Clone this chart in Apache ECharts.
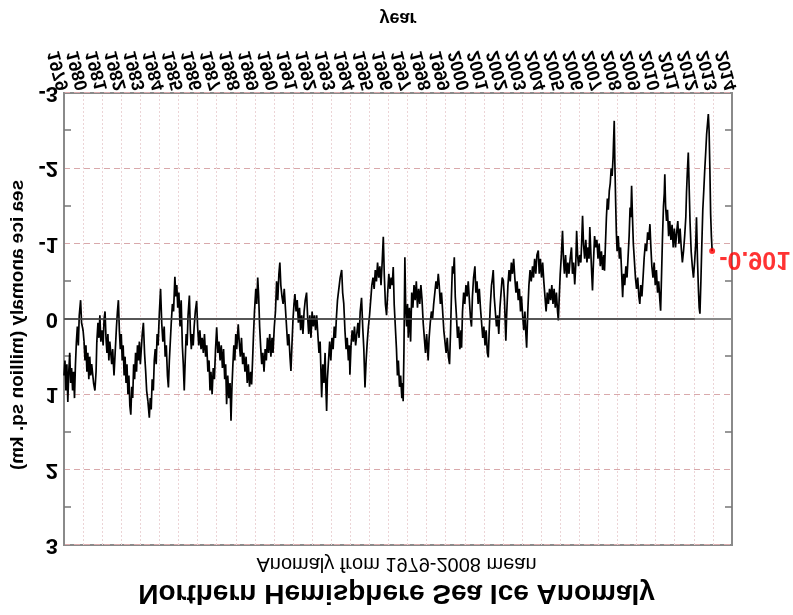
<!DOCTYPE html>
<html>
<head>
<meta charset="utf-8">
<script src="https://cdn.jsdelivr.net/npm/echarts@6/dist/echarts.min.js"></script>
<style>
html,body{margin:0;padding:0;background:#fff;}
#chart{width:793px;height:615px;transform:scaleY(-1);}
</style>
</head>
<body>
<div id="chart"></div>
<script>
// Northern Hemisphere sea ice anomaly (million sq. km), [decimal year, anomaly]
const data1979s = [
[1979.00,0.75],[1979.05,0.55],[1979.10,0.95],[1979.15,0.60],[1979.20,1.10],[1979.25,0.70],[1979.30,0.45],[1979.35,0.85],[1979.40,0.65],[1979.45,0.95],[1979.50,0.70],[1979.55,1.05],[1979.60,0.60],[1979.65,0.30],[1979.70,0.10],[1979.75,0.35],[1979.80,-0.05],[1979.87,-0.25],[1979.92,0.05],
[1980.00,0.15],[1980.05,0.30],[1980.10,0.55],[1980.15,0.35],[1980.20,0.70],[1980.25,0.45],[1980.30,0.80],[1980.35,0.50],[1980.40,0.75],[1980.45,0.60],[1980.55,0.85],[1980.62,0.95],[1980.68,0.70],[1980.72,0.30],[1980.78,0.05],[1980.83,0.25],[1980.88,-0.05],[1980.93,0.30],
[1981.00,0.15],[1981.05,0.35],[1981.10,0.00],[1981.15,-0.10],[1981.20,0.25],[1981.25,0.45],[1981.30,0.20],[1981.35,0.55],[1981.40,0.30],[1981.50,0.60],[1981.55,0.40],[1981.62,0.75],[1981.70,0.35],[1981.75,0.10],[1981.80,-0.10],[1981.85,-0.25],[1981.90,0.15],[1981.95,0.40],
[1982.00,0.20],[1982.05,0.55],[1982.10,0.35],[1982.15,0.75],[1982.20,0.50],[1982.25,0.85],[1982.30,0.60],[1982.35,1.00],[1982.40,0.75],[1982.45,1.15],[1982.50,1.27],[1982.55,0.90],[1982.60,1.05],[1982.65,0.60],[1982.70,0.80],[1982.75,0.45],[1982.80,0.70],[1982.85,0.35],[1982.90,0.55],[1982.95,0.30],
[1983.00,0.60],[1983.05,0.40],[1983.10,0.20],[1983.16,0.05],[1983.22,0.45],[1983.28,0.70],[1983.33,0.95],[1983.40,1.10],[1983.47,1.31],[1983.52,1.05],[1983.57,1.20],[1983.62,0.80],[1983.68,0.95],[1983.73,0.55],[1983.78,0.40],[1983.83,0.60],[1983.88,0.20],[1983.93,0.35],
[1984.00,-0.10],[1984.06,-0.40],[1984.12,0.05],[1984.18,0.30],[1984.25,0.10],[1984.30,0.50],[1984.36,0.35],[1984.42,0.75],[1984.47,0.91],[1984.52,0.55],[1984.57,0.30],[1984.62,0.05],[1984.68,-0.20],[1984.74,-0.10],[1984.81,-0.56],[1984.86,-0.30],[1984.91,-0.45],[1984.96,-0.15],
[1985.02,-0.35],[1985.08,0.10],[1985.14,-0.25],[1985.20,0.35],[1985.25,0.60],[1985.30,0.95],[1985.35,0.55],[1985.40,0.20],[1985.45,0.35],[1985.50,-0.05],[1985.57,-0.31],[1985.62,0.15],[1985.67,0.40],[1985.72,0.20],[1985.77,0.35],[1985.82,0.10],[1985.88,-0.10],[1985.95,-0.24],
[1986.00,0.10],[1986.06,0.35],[1986.12,0.15],[1986.18,0.40],[1986.24,0.25],[1986.30,0.45],[1986.36,0.20],[1986.42,0.50],[1986.48,0.35],[1986.54,0.70],[1986.60,0.55],[1986.65,0.95],[1986.70,0.70],[1986.76,1.00],[1986.82,0.65],[1986.88,0.80],[1986.94,0.40],
[1987.00,0.11],[1987.06,0.45],[1987.12,0.30],[1987.18,0.55],[1987.24,0.35],[1987.30,0.65],[1987.36,0.40],[1987.42,0.80],[1987.47,0.60],[1987.52,1.13],[1987.58,0.75],[1987.64,1.05],[1987.70,0.85],[1987.75,1.35],[1987.80,0.90],[1987.85,0.60],[1987.90,0.35],[1987.95,0.55],
[1988.00,0.20],[1988.05,0.40],[1988.13,0.07],[1988.18,0.30],[1988.24,0.50],[1988.30,0.25],[1988.36,0.60],[1988.42,0.45],[1988.48,0.70],[1988.54,0.50],[1988.60,0.85],[1988.66,0.60],[1988.72,0.90],[1988.78,0.70],[1988.83,0.87],[1988.88,0.55],[1988.93,0.20],[1988.98,-0.10],
[1989.05,-0.40],[1989.10,-0.20],[1989.15,-0.55],[1989.20,-0.30],[1989.25,0.10],[1989.30,0.35],[1989.36,0.60],[1989.42,0.45],[1989.48,0.70],[1989.54,0.40],[1989.60,0.55],[1989.66,0.25],[1989.72,0.45],[1989.78,0.20],[1989.84,0.50],[1989.90,0.25],[1989.95,0.45]
];
const data1990s = [
[1990.02,0.10],[1990.08,-0.10],[1990.14,-0.50],[1990.20,-0.25],[1990.26,-0.60],[1990.31,-0.75],[1990.36,-0.45],[1990.42,-0.30],[1990.48,-0.20],[1990.54,-0.40],[1990.60,-0.15],[1990.66,0.10],[1990.72,0.35],[1990.78,0.20],[1990.84,0.50],[1990.89,0.69],[1990.95,0.30],
[1991.00,0.00],[1991.05,-0.20],[1991.10,-0.33],[1991.16,-0.10],[1991.22,-0.25],[1991.28,0.05],[1991.34,-0.15],[1991.40,0.15],[1991.46,-0.05],[1991.52,0.20],[1991.58,-0.10],[1991.64,-0.25],[1991.71,-0.35],[1991.76,-0.05],[1991.82,0.20],[1991.88,-0.05],[1991.94,0.25],
[1992.00,-0.10],[1992.06,0.10],[1992.12,-0.05],[1992.18,0.15],[1992.24,-0.05],[1992.30,0.20],[1992.36,0.45],[1992.42,0.30],[1992.50,1.04],[1992.56,0.60],[1992.62,0.85],[1992.68,0.45],[1992.72,0.90],[1992.76,1.22],[1992.80,0.80],[1992.86,0.55],[1992.92,0.30],[1992.98,0.55],
[1993.04,0.25],[1993.10,0.40],[1993.16,0.10],[1993.22,0.25],[1993.28,-0.05],[1993.33,-0.25],[1993.40,-0.40],[1993.47,-0.55],[1993.55,-0.65],[1993.60,-0.35],[1993.66,-0.20],[1993.72,0.15],[1993.78,0.40],[1993.84,0.25],[1993.90,0.55],[1993.95,0.35],[1993.98,0.74],
[1994.04,0.35],[1994.10,0.15],[1994.16,0.30],[1994.22,0.10],[1994.28,0.35],[1994.34,0.20],[1994.40,0.05],[1994.46,0.25],[1994.52,-0.10],[1994.59,-0.28],[1994.65,0.10],[1994.71,0.40],[1994.77,0.91],[1994.83,0.55],[1994.89,0.30],[1994.95,0.10],
[1995.01,-0.05],[1995.07,-0.25],[1995.13,-0.45],[1995.19,-0.55],[1995.25,-0.40],[1995.31,-0.65],[1995.37,-0.50],[1995.43,-0.75],[1995.49,-0.55],[1995.55,-0.70],[1995.61,-0.45],[1995.67,-0.75],[1995.73,-1.09],[1995.78,-0.60],[1995.84,-0.20],[1995.90,-0.05],[1995.96,-0.35],
[1996.02,-0.60],[1996.08,-0.40],[1996.14,-0.55],[1996.20,-0.45],[1996.25,-0.69],[1996.30,-0.20],[1996.36,0.10],[1996.42,0.40],[1996.47,0.75],[1996.52,0.55],[1996.58,0.90],[1996.64,0.75],[1996.70,1.05],[1996.74,0.85],[1996.77,1.09],[1996.81,0.45],[1996.86,-0.82],[1996.90,-0.20],[1996.95,0.10],
[1997.00,-0.20],[1997.04,0.25],[1997.10,-0.15],[1997.16,0.30],[1997.22,-0.35],[1997.28,-0.15],[1997.34,-0.45],[1997.40,-0.25],[1997.46,-0.50],[1997.52,-0.15],[1997.58,-0.40],[1997.64,-0.20],[1997.70,-0.45],[1997.76,-0.25],[1997.82,0.05],[1997.88,0.25],[1997.94,0.45],
[1998.00,0.20],[1998.08,0.55],[1998.13,0.25],[1998.19,0.05],[1998.25,-0.10],[1998.31,0.00],[1998.37,-0.20],[1998.43,-0.35],[1998.49,-0.50],[1998.55,-0.40],[1998.61,-0.60],[1998.66,-0.45],[1998.72,-0.20],[1998.78,-0.35],[1998.84,-0.10],[1998.90,0.15],[1998.96,0.30],
[1999.02,0.45],[1999.08,0.25],[1999.14,0.50],[1999.20,0.60],[1999.25,0.20],[1999.30,-0.30],[1999.35,-0.70],[1999.40,-0.60],[1999.45,-0.82],[1999.50,-0.30],[1999.56,-0.05],[1999.62,0.25],[1999.68,0.10],[1999.74,0.40],[1999.80,0.15],[1999.83,0.38],[1999.88,-0.10],[1999.94,-0.35]
];
const data2000s = [
[2000.00,-0.20],[2000.06,-0.45],[2000.12,-0.30],[2000.18,-0.50],[2000.24,-0.25],[2000.30,0.00],[2000.35,0.10],[2000.40,-0.30],[2000.46,-0.55],[2000.53,-0.70],[2000.58,-0.35],[2000.64,-0.50],[2000.70,-0.20],[2000.76,-0.40],[2000.82,-0.15],[2000.88,0.05],[2000.94,0.25],
[2001.00,0.10],[2001.06,0.35],[2001.12,0.15],[2001.18,0.45],[2001.23,0.51],[2001.28,0.15],[2001.34,-0.20],[2001.40,-0.45],[2001.45,-0.55],[2001.49,-0.65],[2001.54,-0.30],[2001.60,-0.10],[2001.66,0.10],[2001.72,-0.05],[2001.78,0.20],[2001.84,-0.15],[2001.90,-0.35],[2001.96,-0.55],
[2002.02,-0.51],[2002.08,-0.25],[2002.15,0.29],[2002.20,-0.10],[2002.26,-0.45],[2002.32,-0.65],[2002.38,-0.50],[2002.44,-0.75],[2002.50,-0.60],[2002.56,-0.80],[2002.62,-0.55],[2002.68,-0.35],[2002.74,-0.50],[2002.80,-0.25],[2002.86,-0.40],[2002.92,-0.10],[2002.97,-0.30],
[2003.03,-0.05],[2003.09,0.15],[2003.15,-0.10],[2003.20,0.20],[2003.24,0.38],[2003.30,-0.10],[2003.36,-0.45],[2003.42,-0.65],[2003.48,-0.50],[2003.55,-0.70],[2003.60,-0.55],[2003.66,-0.80],[2003.72,-0.60],[2003.78,-0.85],[2003.85,-0.91],[2003.90,-0.60],[2003.96,-0.80],
[2004.02,-0.55],[2004.08,-0.75],[2004.14,-0.50],[2004.20,-0.30],[2004.26,-0.10],[2004.32,-0.35],[2004.38,-0.20],[2004.44,-0.40],[2004.50,-0.25],[2004.56,-0.45],[2004.62,-0.20],[2004.68,-0.40],[2004.74,-0.15],[2004.80,-0.35],[2004.86,-0.10],[2004.90,0.02],[2004.95,-0.30],
[2005.00,-0.60],[2005.06,-0.85],[2005.12,-1.17],[2005.17,-0.80],[2005.22,-0.60],[2005.28,-0.85],[2005.34,-0.55],[2005.40,-0.75],[2005.46,-0.60],[2005.52,-0.80],[2005.59,-0.95],[2005.64,-0.60],[2005.70,-0.75],[2005.76,-0.46],[2005.81,-0.70],[2005.86,-1.17],[2005.91,-0.85],[2005.96,-0.70],
[2006.02,-0.85],[2006.08,-0.75],[2006.12,-1.00],[2006.17,-1.37],[2006.22,-1.00],[2006.28,-0.80],[2006.34,-1.05],[2006.40,-0.75],[2006.46,-0.95],[2006.51,-0.80],[2006.55,-1.22],[2006.60,-0.90],[2006.65,-0.60],[2006.69,-0.38],[2006.74,-0.75],[2006.80,-1.10],[2006.86,-0.95],[2006.92,-1.05],[2006.98,-0.80],
[2007.04,-1.00],[2007.10,-0.70],[2007.16,-0.90],[2007.22,-0.65],[2007.28,-0.85],[2007.32,-0.64],[2007.37,-1.00],[2007.42,-1.35],[2007.47,-1.60],[2007.52,-1.45],[2007.57,-1.70],[2007.62,-1.80],[2007.67,-2.00],[2007.72,-1.90],[2007.77,-2.15],[2007.80,-2.40],[2007.83,-2.63],[2007.86,-2.10],[2007.90,-1.60],[2007.94,-1.15],[2007.98,-0.90],
[2008.04,-1.10],[2008.10,-0.80],[2008.16,-0.95],[2008.22,-0.60],[2008.27,-0.29],[2008.32,-0.60],[2008.38,-0.45],[2008.44,-0.70],[2008.50,-0.55],[2008.56,-0.85],[2008.61,-1.10],[2008.66,-1.48],[2008.70,-1.35],[2008.74,-1.77],[2008.78,-1.40],[2008.83,-1.00],[2008.88,-0.80],[2008.94,-0.55],
[2009.00,-0.40],[2009.06,-0.55],[2009.12,-0.30],[2009.17,-0.20],[2009.22,-0.45],[2009.28,-0.30],[2009.34,-0.55],[2009.40,-0.82],[2009.46,-1.00],[2009.52,-0.90],[2009.58,-1.15],[2009.64,-1.05],[2009.70,-1.26],[2009.75,-0.95],[2009.80,-0.70],[2009.86,-0.55],[2009.92,-0.75],[2009.98,-0.45]
];
const data2010s = [
[2010.04,-0.65],[2010.10,-0.35],[2010.16,-0.50],[2010.22,-0.25],[2010.26,-0.11],[2010.31,-0.60],[2010.36,-1.10],[2010.41,-1.50],[2010.45,-1.66],[2010.48,-1.92],[2010.52,-1.50],[2010.57,-1.30],[2010.62,-1.45],[2010.68,-1.10],[2010.74,-1.30],[2010.80,-1.05],[2010.86,-1.25],[2010.92,-0.95],[2010.98,-1.20],
[2011.04,-0.95],[2011.10,-1.15],[2011.16,-1.30],[2011.22,-1.00],[2011.28,-1.20],[2011.34,-0.95],[2011.40,-0.75],[2011.46,-0.90],[2011.52,-1.10],[2011.58,-1.35],[2011.62,-1.70],[2011.66,-1.95],[2011.71,-2.21],[2011.75,-1.80],[2011.80,-1.30],[2011.86,-0.90],[2011.92,-0.70],[2011.98,-0.55],
[2012.04,-0.75],[2012.10,-1.00],[2012.14,-1.35],[2012.19,-0.80],[2012.24,-0.40],[2012.28,-0.15],[2012.32,-0.07],[2012.37,-0.50],[2012.42,-1.00],[2012.47,-1.45],[2012.52,-1.70],[2012.57,-1.97],[2012.62,-2.20],[2012.67,-2.45],[2012.72,-2.60],[2012.76,-2.72],[2012.80,-2.50],[2012.84,-2.00],[2012.88,-1.40],[2012.92,-1.10],[2012.96,-0.901]
];
const latestPoint = [2012.96, -0.901];
const latestLabel = '-0.901';
const zeroLineRange = [1979, 2012.05];
const xRange = [1979, 2014];
const yRange = [-3, 3];

const series = [].concat(data1979s, data1990s, data2000s, data2010s);
const FONT = 'Liberation Sans, Arial, sans-serif';

const chart = echarts.init(document.getElementById('chart'), null, {renderer: 'canvas'});
const yAxisBase = {
  type: 'value', min: yRange[0], max: yRange[1], interval: 1,
  axisLine: {show: true, lineStyle: {color: '#8a8a8a', width: 2}},
  axisTick: {show: false, inside: true},
  minorTick: {show: true, splitNumber: 2, length: 7, lineStyle: {color: '#777', width: 1.5}},
  splitLine: {show: false}
};
chart.setOption({
  animation: false,
  backgroundColor: '#fff',
  title: {
    text: 'Northern Hemisphere Sea Ice Anomaly',
    subtext: 'Anomaly from 1979-2008 mean',
    left: 'center', top: 3, itemGap: 5,
    textStyle: {fontFamily: FONT, fontSize: 28, fontWeight: 'bold', color: '#000'},
    subtextStyle: {fontFamily: FONT, fontSize: 20, color: '#000'}
  },
  grid: {left: 64, right: 61, top: 70, bottom: 93, show: true, borderColor: '#8a8a8a', borderWidth: 2, backgroundColor: '#fff'},
  xAxis: {
    type: 'value', min: xRange[0], max: xRange[1], interval: 1,
    name: 'year', nameLocation: 'middle', nameGap: 66,
    nameTextStyle: {fontFamily: FONT, fontSize: 18, fontWeight: 'bold', color: '#000'},
    axisLine: {show: true, lineStyle: {color: '#8a8a8a', width: 2}},
    axisTick: {show: false},
    axisLabel: {rotate: 75, margin: 3, fontFamily: FONT, fontSize: 18, fontWeight: 'bold', color: '#000',
      formatter: v => String(Math.round(v))},
    splitLine: {show: true, lineStyle: {color: '#ecd4d6', type: [2, 2], width: 1}}
  },
  yAxis: [
    Object.assign({}, yAxisBase, {
      position: 'left',
      name: 'sea ice anomaly (million sq. km)', nameLocation: 'middle', nameGap: 34,
      nameTextStyle: {fontFamily: FONT, fontSize: 19, fontWeight: 'bold', color: '#000', padding: [0, 0, 0, 12]},
      axisLabel: {margin: 6, fontFamily: FONT, fontSize: 22, fontWeight: 'bold', color: '#000'},
      splitLine: {show: true, lineStyle: {color: '#d9a9ab', type: [6, 4], width: 1.2}}
    }),
    Object.assign({}, yAxisBase, {position: 'right', axisLabel: {show: false}})
  ],
  series: [
    {
      type: 'line', data: series, showSymbol: false, symbol: 'none',
      lineStyle: {color: '#000', width: 1.7}, z: 3,
      markLine: {
        silent: true, symbol: 'none', label: {show: false},
        lineStyle: {color: '#444', type: 'solid', width: 1.5},
        data: [[{coord: [zeroLineRange[0], 0]}, {coord: [zeroLineRange[1], 0]}]]
      }
    },
    {
      type: 'scatter', data: [latestPoint], symbol: 'circle', symbolSize: 6, z: 5,
      itemStyle: {color: '#ff0000'},
      label: {show: true, position: 'right', distance: 4, offset: [0, -8], formatter: latestLabel,
        fontFamily: FONT, fontSize: 25, fontWeight: 'bold', color: '#ff0000'}
    }
  ]
});
</script>
</body>
</html>
